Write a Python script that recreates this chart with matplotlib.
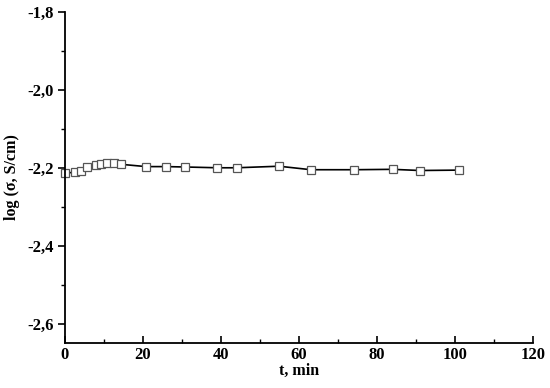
import matplotlib
matplotlib.use('Agg')
from matplotlib import pyplot as plt
from matplotlib.ticker import FuncFormatter, MultipleLocator

# conductivity vs time
t_min = [0.0, 2.7, 4.0, 5.6, 7.9, 9.2, 10.9, 12.6, 14.3,
         20.8, 25.9, 30.9, 39.1, 44.0, 54.9, 63.1, 74.1, 84.0, 91.0, 101.0]
log_sigma = [-2.213, -2.212, -2.207, -2.198, -2.194, -2.190, -2.189, -2.189, -2.191,
             -2.197, -2.197, -2.198, -2.200, -2.200, -2.196, -2.205, -2.205, -2.204, -2.207, -2.206]

x_ticks = [0, 20, 40, 60, 80, 100, 120]
y_ticks = [-2.6, -2.4, -2.2, -2.0, -1.8]


def comma_fmt(v, pos):
    return f'{v:.1f}'.replace('.', ',')


def main():
    plt.rcParams['font.family'] = ['Liberation Serif', 'DejaVu Serif']
    plt.rcParams['font.weight'] = 'bold'

    fig = plt.figure(figsize=(5.5, 3.88), dpi=100)
    ax = fig.add_axes([0.118, 0.116, 0.851, 0.853])

    ax.plot(t_min, log_sigma, color='black', linewidth=1.2,
            marker='s', markersize=6, markerfacecolor='white',
            markeredgecolor='#555555', markeredgewidth=0.9, clip_on=False)

    ax.set_xlim(0, 120)
    ax.set_ylim(-2.65, -1.8)
    ax.set_xticks(x_ticks)
    ax.set_yticks(y_ticks)
    ax.xaxis.set_minor_locator(MultipleLocator(10))
    ax.yaxis.set_minor_locator(MultipleLocator(0.1))
    ax.yaxis.set_major_formatter(FuncFormatter(comma_fmt))

    for side in ('top', 'right'):
        ax.spines[side].set_visible(False)
    for side in ('left', 'bottom'):
        ax.spines[side].set_linewidth(1.3)

    ax.tick_params(axis='x', which='major', direction='in', length=5, width=1.2,
                   labelsize=12, pad=3)
    ax.tick_params(axis='x', which='minor', direction='in', length=3, width=1.0)
    ax.tick_params(axis='y', which='major', direction='out', length=5, width=1.2,
                   labelsize=12, pad=3)
    ax.tick_params(axis='y', which='minor', direction='out', length=3, width=1.0)

    for lbl in ax.get_xticklabels() + ax.get_yticklabels():
        lbl.set_fontweight('bold')

    ax.set_xlabel('t, min', fontsize=11.5, fontweight='bold', labelpad=0)
    ax.set_ylabel('log (σ, S/cm)', fontsize=11.5, fontweight='bold', labelpad=5)

    fig.savefig('out.png', dpi=100)


if __name__ == '__main__':
    main()
